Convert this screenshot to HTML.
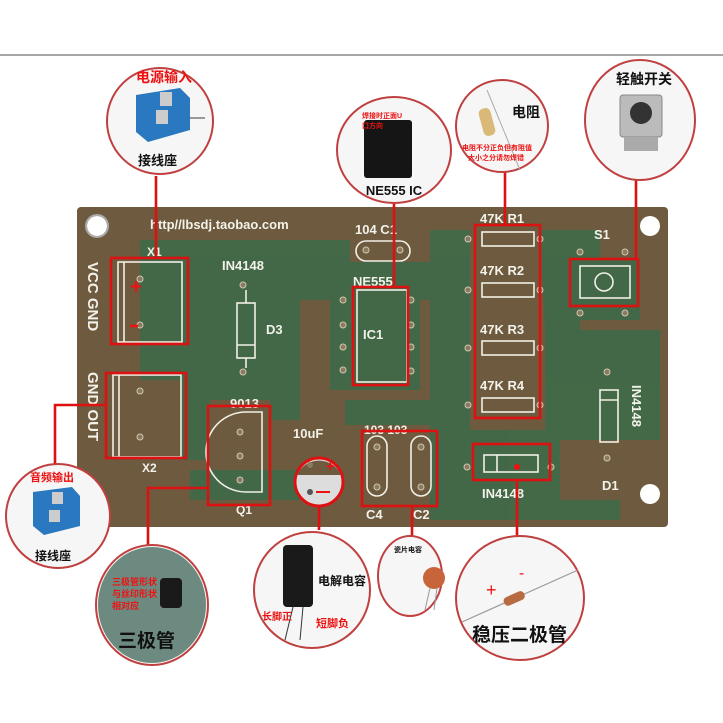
<!DOCTYPE html>
<html><head><meta charset="utf-8"><style>
html,body{margin:0;padding:0;background:#fff;}
svg{display:block}
.w{fill:#f2f2ea;font-family:"Liberation Sans","DejaVu Sans",sans-serif;font-weight:bold;}
.cn{font-family:"Liberation Sans","Noto Sans CJK SC",sans-serif;font-weight:bold;}
</style></head><body>
<svg width="723" height="723" viewBox="0 0 723 723" xmlns="http://www.w3.org/2000/svg">
<rect width="723" height="723" fill="#fff"/>
<line x1="0" y1="55" x2="723" y2="55" stroke="#888" stroke-width="1.5"/>
<!-- board -->
<rect x="77" y="207" width="591" height="320" rx="4" fill="#6e5a3e"/>
<g fill="#3f6a48" opacity="0.9">
<path d="M140 240 H350 V275 H300 V330 H210 V380 H140 Z"/>
<path d="M210 330 H300 V420 H270 V400 H210 Z"/>
<path d="M300 262 H460 V300 H420 V390 H330 V300 H300 Z"/>
<path d="M430 230 H470 V520 H430 Z"/>
<path d="M540 230 H600 V260 H640 V320 H580 V330 H545 Z"/>
<path d="M545 330 H660 V440 H560 V500 H620 V520 H470 V430 H545 Z"/>
<path d="M190 470 H300 V500 H190 Z"/>
<path d="M345 400 H440 V425 H345 Z"/>
<path d="M180 320 H210 V460 H180 Z"/>
</g>
<g fill="#fff">
<circle cx="97" cy="226" r="10"/><circle cx="650" cy="226" r="10"/><circle cx="650" cy="494" r="10"/>
</g>
<g stroke="#eee" stroke-width="2" fill="none">
<circle cx="97" cy="226" r="11" stroke="#aaa"/>
</g>
<!-- silkscreen text -->
<text class="w" x="150" y="229" font-size="13">http//lbsdj.taobao.com</text>
<text class="w" x="147" y="256" font-size="12">X1</text>
<text class="w" x="142" y="472" font-size="12">X2</text>
<text class="w" transform="translate(88,262) rotate(90)" font-size="15">VCC GND</text>
<text class="w" transform="translate(88,372) rotate(90)" font-size="15">GND OUT</text>
<text class="w" x="222" y="270" font-size="13">IN4148</text>
<text class="w" x="266" y="334" font-size="13">D3</text>
<text class="w" x="355" y="234" font-size="13">104 C1</text>
<text class="w" x="353" y="286" font-size="13">NE555</text>
<text class="w" x="363" y="339" font-size="13">IC1</text>
<text class="w" x="230" y="408" font-size="13">9013</text>
<text class="w" x="236" y="514" font-size="12">Q1</text>
<text class="w" x="293" y="438" font-size="13">10uF</text>
<text class="w" x="364" y="434" font-size="12">103 103</text>
<text class="w" x="366" y="519" font-size="13">C4</text><text class="w" x="413" y="519" font-size="13">C2</text>
<text class="w" x="480" y="223" font-size="13">47K R1</text>
<text class="w" x="480" y="275" font-size="13">47K R2</text>
<text class="w" x="480" y="334" font-size="13">47K R3</text>
<text class="w" x="480" y="390" font-size="13">47K R4</text>
<text class="w" x="594" y="239" font-size="13">S1</text>
<text class="w" x="482" y="498" font-size="13">IN4148</text>
<text class="w" x="602" y="490" font-size="13">D1</text>
<text class="w" transform="translate(632,385) rotate(90)" font-size="13">IN4148</text>
<!-- silk outlines -->
<g stroke="#f0f0e6" stroke-width="1.6" fill="none">
<rect x="118" y="262" width="64" height="80"/><line x1="124" y1="262" x2="124" y2="342"/>
<rect x="113" y="375" width="68" height="82"/><line x1="119" y1="375" x2="119" y2="457"/>
<rect x="237" y="303" width="18" height="55"/><line x1="237" y1="345" x2="255" y2="345"/>
<line x1="246" y1="290" x2="246" y2="303"/><line x1="246" y1="358" x2="246" y2="368"/>
<rect x="356" y="241" width="54" height="20" rx="10"/>
<rect x="357" y="290" width="50" height="92"/>
<path d="M246 412 A40 40 0 0 0 246 492 L262 492 L262 412 Z"/>
<rect x="367" y="436" width="20" height="60" rx="10"/><rect x="411" y="436" width="20" height="60" rx="10"/>
<rect x="482" y="232" width="52" height="14"/><rect x="482" y="283" width="52" height="14"/>
<rect x="482" y="341" width="52" height="14"/><rect x="482" y="398" width="52" height="14"/>
<rect x="580" y="266" width="50" height="32"/><circle cx="604" cy="282" r="9"/>
<rect x="484" y="455" width="54" height="17"/><line x1="497" y1="455" x2="497" y2="472"/>
<rect x="600" y="390" width="18" height="52"/><line x1="600" y1="400" x2="618" y2="400"/>
</g>
<g fill="#8a7a60" stroke="#cfc8b0" stroke-width="1">
<circle cx="140" cy="279" r="3"/><circle cx="140" cy="325" r="3"/>
<circle cx="140" cy="391" r="3"/><circle cx="140" cy="437" r="3"/>
<circle cx="243" cy="285" r="3"/><circle cx="243" cy="372" r="3"/>
<circle cx="343" cy="300" r="3"/><circle cx="343" cy="325" r="3"/><circle cx="343" cy="347" r="3"/><circle cx="343" cy="370" r="3"/>
<circle cx="411" cy="300" r="3"/><circle cx="411" cy="325" r="3"/><circle cx="411" cy="347" r="3"/><circle cx="411" cy="371" r="3"/>
<circle cx="400" cy="250" r="3"/><circle cx="366" cy="250" r="3"/>
<circle cx="240" cy="432" r="3"/><circle cx="240" cy="456" r="3"/><circle cx="240" cy="480" r="3"/>
<circle cx="377" cy="447" r="3"/><circle cx="377" cy="487" r="3"/><circle cx="421" cy="447" r="3"/><circle cx="421" cy="487" r="3"/>
<circle cx="468" cy="239" r="3"/><circle cx="540" cy="239" r="3"/><circle cx="468" cy="290" r="3"/><circle cx="540" cy="290" r="3"/>
<circle cx="468" cy="348" r="3"/><circle cx="540" cy="348" r="3"/><circle cx="468" cy="405" r="3"/><circle cx="540" cy="405" r="3"/>
<circle cx="580" cy="252" r="3"/><circle cx="625" cy="252" r="3"/><circle cx="580" cy="313" r="3"/><circle cx="625" cy="313" r="3"/>
<circle cx="467" cy="467" r="3"/><circle cx="551" cy="467" r="3"/>
<circle cx="607" cy="372" r="3"/><circle cx="607" cy="458" r="3"/>
</g>
<!-- capacitor marking -->
<circle cx="319" cy="482" r="24" fill="#ddd" stroke="#d11" stroke-width="3"/>
<path d="M297 475 A24 24 0 0 1 341 475 Z" fill="#6e5a3e"/>
<circle cx="310" cy="465" r="3" fill="#8a7a60"/><circle cx="310" cy="492" r="3" fill="#555"/>
<text x="326" y="471" fill="#e11" font-size="15" font-weight="bold" font-family="Liberation Sans">+</text>
<line x1="316" y1="492" x2="330" y2="492" stroke="#e11" stroke-width="2"/>
<text x="130" y="293" fill="#e11" font-size="20" font-weight="bold" font-family="Liberation Sans">+</text>
<line x1="130" y1="326" x2="138" y2="326" stroke="#e11" stroke-width="2.5"/>
<circle cx="517" cy="467" r="3" fill="#e11"/>
<!-- red boxes & leaders -->
<g stroke="#dd1111" stroke-width="2.6" fill="none">
<rect x="111" y="258" width="77" height="86"/>
<rect x="106" y="373" width="80" height="85"/>
<rect x="353" y="287" width="55" height="98"/>
<rect x="208" y="406" width="62" height="99"/>
<rect x="362" y="431" width="75" height="75"/>
<rect x="475" y="225" width="65" height="193"/>
<rect x="570" y="259" width="68" height="47"/>
<rect x="473" y="444" width="77" height="36"/>
<line x1="156" y1="176" x2="156" y2="258"/>
<line x1="394" y1="203" x2="394" y2="287"/>
<line x1="505" y1="172" x2="505" y2="225"/>
<line x1="636" y1="180" x2="636" y2="259"/>
<polyline points="106,405 55,405 55,466"/>
<polyline points="208,488 148,488 148,548"/>
<line x1="319" y1="506" x2="319" y2="530"/>
<line x1="412" y1="506" x2="412" y2="540"/>
<line x1="517" y1="480" x2="517" y2="537"/>
</g>
<!-- callout circles -->
<g stroke="#c04040" stroke-width="2" fill="#f6f6f6">
<circle cx="160" cy="121" r="53"/>
<ellipse cx="394" cy="150" rx="57" ry="53"/>
<ellipse cx="502" cy="126" rx="46" ry="46"/>
<ellipse cx="640" cy="120" rx="55" ry="60"/>
<circle cx="58" cy="516" r="52"/>
<ellipse cx="152" cy="605" rx="56" ry="60"/>
<ellipse cx="312" cy="590" rx="58" ry="58"/>
<ellipse cx="410" cy="576" rx="32" ry="40"/>
<ellipse cx="520" cy="598" rx="64" ry="62"/>
</g>
<!-- contents -->
<text class="cn" x="136" y="82" fill="#e11" font-size="14">电源输入</text>
<g fill="#2a78c0"><path d="M136 95 L180 88 L190 98 L190 130 L148 142 L136 132 Z"/><rect x="160" y="92" width="12" height="14" fill="#ccc"/><rect x="156" y="110" width="12" height="14" fill="#ccc"/></g>
<line x1="190" y1="118" x2="205" y2="118" stroke="#999" stroke-width="2"/>
<text class="cn" x="138" y="165" fill="#111" font-size="13">接线座</text>
<rect x="364" y="120" width="48" height="58" rx="3" fill="#151515"/>
<text class="cn" x="362" y="118" fill="#e11" font-size="7">焊接时正面U</text>
<text class="cn" x="362" y="128" fill="#e11" font-size="7">口方向</text>
<text x="394" y="195" text-anchor="middle" font-family="Liberation Sans" font-weight="bold" font-size="13" fill="#111">NE555 IC</text>
<line x1="487" y1="90" x2="520" y2="170" stroke="#aaa" stroke-width="1"/>
<rect x="481" y="108" width="12" height="28" rx="5" fill="#d9b878" transform="rotate(-15 487 122)"/>
<text class="cn" x="512" y="117" fill="#111" font-size="14">电阻</text>
<text class="cn" x="462" y="150" fill="#e11" font-size="7">电阻不分正负但有阻值</text>
<text class="cn" x="468" y="160" fill="#e11" font-size="7">大小之分请勿焊错</text>
<text class="cn" x="616" y="84" fill="#111" font-size="14">轻触开关</text>
<rect x="620" y="95" width="42" height="42" rx="3" fill="#bbb" stroke="#888"/>
<circle cx="641" cy="113" r="11" fill="#333"/>
<rect x="624" y="137" width="34" height="14" fill="#aaa"/>
<text class="cn" x="30" y="481" fill="#e11" font-size="11">音频输出</text>
<g fill="#2a78c0"><path d="M33 492 L72 487 L80 496 L80 526 L44 535 L33 526 Z"/><rect x="52" y="492" width="11" height="12" fill="#ccc"/><rect x="49" y="510" width="11" height="12" fill="#ccc"/></g>
<text class="cn" x="35" y="560" fill="#111" font-size="12">接线座</text>
<ellipse cx="152" cy="605" rx="54" ry="58" fill="#6d8a80"/>
<rect x="160" y="578" width="22" height="30" rx="4" fill="#1a1a1a"/>
<text class="cn" x="112" y="585" fill="#e11" font-size="9">三极管形状</text>
<text class="cn" x="112" y="597" fill="#e11" font-size="9">与丝印形状</text>
<text class="cn" x="112" y="609" fill="#e11" font-size="9">相对应</text>
<text class="cn" x="118" y="647" fill="#111" font-size="19" font-weight="normal">三极管</text>
<rect x="283" y="545" width="30" height="62" rx="4" fill="#1a1a1a"/>
<line x1="293" y1="607" x2="285" y2="640" stroke="#333"/><line x1="303" y1="607" x2="300" y2="640" stroke="#333"/>
<text class="cn" x="318" y="585" fill="#111" font-size="12" font-weight="normal">电解电容</text>
<text class="cn" x="262" y="620" fill="#e11" font-size="10">长脚正</text>
<text class="cn" x="316" y="627" fill="#e11" font-size="11">短脚负</text>
<text class="cn" x="394" y="552" fill="#111" font-size="7">瓷片电容</text>
<circle cx="434" cy="578" r="11" fill="#c8643a"/>
<line x1="430" y1="588" x2="425" y2="610" stroke="#999"/><line x1="437" y1="588" x2="434" y2="610" stroke="#999"/>
<line x1="462" y1="622" x2="578" y2="570" stroke="#999" stroke-width="1.2"/>
<rect x="503" y="594" width="22" height="9" rx="4" fill="#b86a40" transform="rotate(-24 514 598)"/>
<text x="486" y="596" fill="#e11" font-size="18" font-family="Liberation Sans">+</text>
<text x="519" y="578" fill="#e11" font-size="16" font-family="Liberation Sans">-</text>
<text class="cn" x="472" y="641" fill="#111" font-size="19" font-weight="normal">稳压二极管</text>
</svg>
</body></html>
